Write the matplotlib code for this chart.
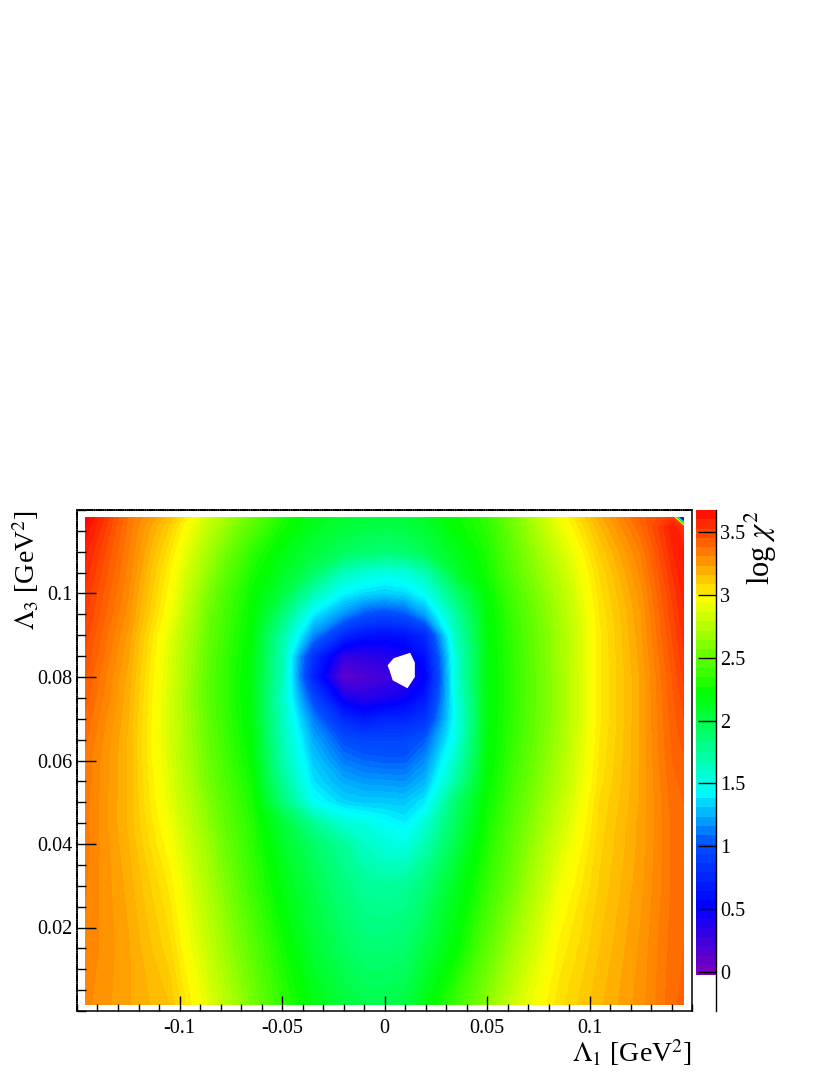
import matplotlib
matplotlib.use("Agg")
import matplotlib.pyplot as plt
import numpy as np
from matplotlib.colors import LinearSegmentedColormap, Normalize
from matplotlib.ticker import FixedLocator, FixedFormatter, MultipleLocator, NullFormatter

plt.rcParams['font.family'] = ['Liberation Serif', 'DejaVu Serif']
plt.rcParams['mathtext.fontset'] = 'stix'

L1 = [-0.146, -0.125, -0.105, -0.085, -0.065, -0.05, -0.035, -0.02, -0.01, 0.0,
      0.01, 0.02, 0.035, 0.05, 0.065, 0.085, 0.105, 0.125, 0.1405, 0.146]
L3 = [0.0015, 0.015, 0.03, 0.04, 0.045, 0.05, 0.055, 0.06, 0.065, 0.07,
      0.075, 0.08, 0.085, 0.09, 0.095, 0.1, 0.105, 0.11, 0.116, 0.1183]
R00 = [3.28, 3.20, 3.12, 2.85, 2.55, 2.33, 2.15, 2.02, 1.98, 1.97, 2.00, 2.15, 2.37, 2.60, 2.83, 3.03, 3.15, 3.25, 3.37, 3.39]
R01 = [3.30, 3.20, 3.06, 2.76, 2.47, 2.25, 2.05, 1.92, 1.86, 1.85, 1.88, 2.00, 2.20, 2.47, 2.71, 2.98, 3.12, 3.24, 3.36, 3.38]
R02 = [3.31, 3.18, 3.00, 2.68, 2.37, 2.15, 1.98, 1.82, 1.74, 1.72, 1.74, 1.85, 2.10, 2.34, 2.58, 2.90, 3.09, 3.22, 3.35, 3.37]
R03 = [3.32, 3.16, 2.94, 2.63, 2.32, 2.08, 1.90, 1.72, 1.60, 1.52, 1.50, 1.65, 1.98, 2.28, 2.52, 2.83, 3.07, 3.21, 3.35, 3.36]
R04 = [3.32, 3.15, 2.91, 2.59, 2.30, 2.03, 1.75, 1.55, 1.50, 1.44, 1.38, 1.55, 1.93, 2.25, 2.49, 2.79, 3.06, 3.21, 3.35, 3.37]
R05 = [3.32, 3.15, 2.88, 2.56, 2.27, 1.85, 1.45, 1.32, 1.30, 1.30, 1.29, 1.38, 1.88, 2.22, 2.46, 2.75, 3.05, 3.20, 3.36, 3.38]
R06 = [3.33, 3.15, 2.86, 2.52, 2.24, 1.75, 1.35, 1.22, 1.18, 1.17, 1.16, 1.25, 1.70, 2.19, 2.43, 2.71, 3.03, 3.20, 3.37, 3.39]
R07 = [3.33, 3.15, 2.84, 2.50, 2.20, 1.68, 1.30, 1.10, 1.05, 1.03, 1.03, 1.15, 1.60, 2.17, 2.40, 2.69, 3.02, 3.20, 3.38, 3.41]
R08 = [3.35, 3.15, 2.83, 2.48, 2.18, 1.65, 1.22, 0.98, 0.93, 0.93, 0.93, 1.03, 1.50, 2.16, 2.38, 2.67, 3.01, 3.20, 3.39, 3.43]
R09 = [3.37, 3.16, 2.83, 2.46, 2.16, 1.62, 1.12, 0.75, 0.65, 0.72, 0.72, 0.82, 1.47, 2.15, 2.37, 2.65, 3.00, 3.20, 3.40, 3.45]
R10 = [3.40, 3.17, 2.83, 2.45, 2.15, 1.60, 0.95, 0.42, 0.32, 0.38, 0.45, 0.65, 1.50, 2.15, 2.36, 2.65, 3.00, 3.20, 3.41, 3.47]
R11 = [3.42, 3.18, 2.84, 2.45, 2.15, 1.65, 0.72, 0.08, 0.15, 0.22, 0.28, 0.50, 1.55, 2.15, 2.36, 2.65, 3.00, 3.20, 3.42, 3.50]
R12 = [3.45, 3.20, 2.85, 2.46, 2.16, 1.65, 0.80, 0.28, 0.30, 0.35, 0.40, 0.60, 1.55, 2.15, 2.37, 2.66, 3.00, 3.21, 3.44, 3.52]
R13 = [3.47, 3.22, 2.87, 2.48, 2.18, 1.70, 1.15, 0.75, 0.60, 0.58, 0.60, 0.75, 1.62, 2.16, 2.38, 2.66, 3.00, 3.22, 3.46, 3.54]
R14 = [3.50, 3.25, 2.92, 2.50, 2.20, 1.85, 1.38, 1.15, 1.00, 0.95, 1.00, 1.20, 1.70, 2.17, 2.40, 2.68, 3.01, 3.23, 3.48, 3.56]
R15 = [3.52, 3.27, 2.95, 2.54, 2.22, 2.00, 1.65, 1.40, 1.33, 1.30, 1.33, 1.45, 1.85, 2.20, 2.43, 2.71, 3.03, 3.25, 3.50, 3.58]
R16 = [3.55, 3.29, 2.98, 2.60, 2.27, 2.10, 1.90, 1.62, 1.55, 1.50, 1.52, 1.65, 2.05, 2.25, 2.48, 2.75, 3.05, 3.28, 3.53, 3.60]
R17 = [3.58, 3.31, 3.02, 2.66, 2.33, 2.15, 2.02, 1.92, 1.87, 1.85, 1.87, 1.95, 2.12, 2.28, 2.51, 2.80, 3.09, 3.31, 3.56, 3.61]
R18 = [3.64, 3.33, 3.08, 2.74, 2.45, 2.25, 2.10, 2.03, 2.00, 1.98, 2.00, 2.05, 2.20, 2.32, 2.56, 2.88, 3.15, 3.37, 3.59, 3.50]
R19 = [3.67, 3.34, 3.13, 2.79, 2.50, 2.28, 2.12, 2.06, 2.03, 2.02, 2.03, 2.08, 2.22, 2.34, 2.58, 2.91, 3.18, 3.40, 3.50, -1.50]
LOGCHI2 = [R00, R01, R02, R03, R04, R05, R06, R07, R08, R09,
           R10, R11, R12, R13, R14, R15, R16, R17, R18, R19]

# region left empty in the scan (white hole), in data coordinates
HOLE_L1 = [0.0015, 0.0045, 0.0125, 0.0148, 0.0148, 0.0112, 0.0040, 0.0025]
HOLE_L3 = [0.0828, 0.0845, 0.0858, 0.0835, 0.0800, 0.0773, 0.0792, 0.0815]

XTICKS = [-0.1, -0.05, 0, 0.05, 0.1]
XLABELS = ['-0.1', '-0.05', '0', '0.05', '0.1']
YTICKS = [0.02, 0.04, 0.06, 0.08, 0.1]
YLABELS = ['0.02', '0.04', '0.06', '0.08', '0.1']
ZTICKS = [0, 0.5, 1, 1.5, 2, 2.5, 3, 3.5]
ZLABELS = ['0', '0.5', '1', '1.5', '2', '2.5', '3', '3.5']

ZMIN, ZMAX = -0.02, 3.675
ANCHOR_V = [ZMIN, 0.5, 1.0, 1.42, 2.2, 2.95, ZMAX]
ANCHOR_C = [(120, 0, 190), (0, 0, 255), (0, 80, 255), (0, 255, 255),
            (0, 255, 0), (255, 255, 0), (255, 0, 0)]
cmap = LinearSegmentedColormap.from_list(
    'rootrainbow',
    [((v - ZMIN) / (ZMAX - ZMIN), tuple(c / 255 for c in col))
     for v, col in zip(ANCHOR_V, ANCHOR_C)], N=512)
norm = Normalize(ZMIN, ZMAX)
levels = np.linspace(ZMIN, ZMAX, 101)

W, H = 830, 1075
fig = plt.figure(figsize=(W / 100, H / 100), dpi=100)
ax = fig.add_axes([77 / W, 1 - 1011 / H, 615 / W, 501 / H])
cax = fig.add_axes([696 / W, 1 - 1011 / H, 20 / W, 501 / H])

ax.contourf(L1, L3, np.array(LOGCHI2), levels=levels, cmap=cmap, norm=norm, extend='both')
ax.fill(HOLE_L1, HOLE_L3, color='white', lw=0, zorder=3)
ax.set_xlim(-0.15, 0.15)
ax.set_ylim(0, 0.12)
ax.set_axisbelow(False)
ax.xaxis.set_major_locator(FixedLocator(XTICKS))
ax.xaxis.set_major_formatter(FixedFormatter(XLABELS))
ax.xaxis.set_minor_locator(MultipleLocator(0.01))
ax.yaxis.set_major_locator(FixedLocator(YTICKS))
ax.yaxis.set_major_formatter(FixedFormatter(YLABELS))
ax.yaxis.set_minor_locator(MultipleLocator(0.005))
ax.xaxis.set_minor_formatter(NullFormatter())
ax.yaxis.set_minor_formatter(NullFormatter())
ax.tick_params(axis='x', which='major', direction='in', length=10.5, width=1, labelsize=14.5, pad=6)
ax.tick_params(axis='x', which='minor', direction='in', length=5.2, width=1)
ax.tick_params(axis='y', which='major', direction='in', length=13.5, width=1, labelsize=14.5, pad=3.5)
ax.tick_params(axis='y', which='minor', direction='in', length=6.8, width=1)
for name, s in ax.spines.items():
    s.set_linewidth(1.1)
    s.set_zorder(5)
    if name in ('top', 'left'):
        s.set_linestyle((0, (1.1, 0.35)))

mid = 0.5 * (levels[:-1] + levels[1:])
cax.pcolormesh([0, 1], levels[::2], mid[::2][:, None], cmap=cmap, norm=norm, shading='flat')
cax.set_xlim(0, 1)
cax.set_ylim(-0.31, ZMAX)
cax.set_xticks([])
for name in ('left', 'top', 'bottom'):
    cax.spines[name].set_visible(False)
cax.spines['right'].set_linewidth(1)
cax.yaxis.tick_right()
cax.yaxis.set_major_locator(FixedLocator(ZTICKS))
cax.yaxis.set_major_formatter(FixedFormatter(ZLABELS))
cax.tick_params(axis='y', direction='in', length=13, width=1, labelsize=14.5, pad=3)

fig.text(692 / W, 1 - 1062 / H, r'$\Lambda_{1}$ [GeV$^{2}$]', ha='right', va='baseline', fontsize=20)
fig.text(10 / W, 1 - 510 / H, r'$\Lambda_{3}$ [GeV$^{2}$]', ha='left', va='top',
         rotation=90, fontsize=20)
fig.text(743 / W, 1 - 510 / H, r'log $\chi^{2}$', ha='left', va='top', rotation=90, fontsize=22)

fig.savefig('out.png', dpi=100)
